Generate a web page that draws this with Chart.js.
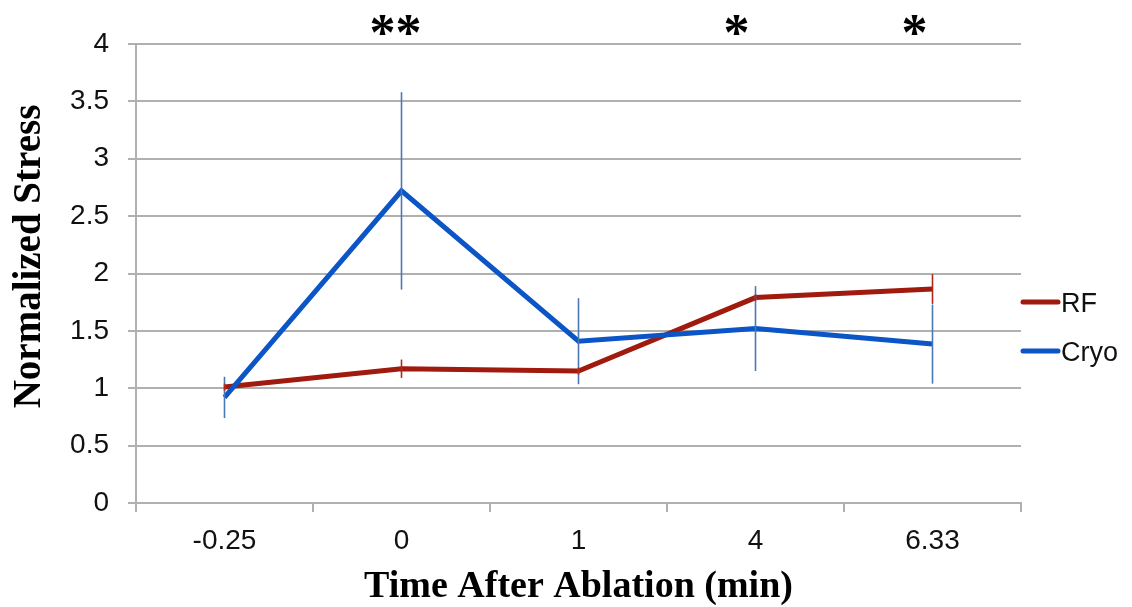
<!DOCTYPE html>
<html>
<head>
<meta charset="utf-8">
<script src="https://cdn.jsdelivr.net/npm/chart.js@4.4.1/dist/chart.umd.min.js"></script>
<style>
  html, body { margin: 0; padding: 0; background: #ffffff; }
  #wrap { width: 1132px; height: 607px; }
</style>
</head>
<body>
<div id="wrap"><canvas id="stressChart" width="1132" height="607"></canvas></div>
<script>
// Time points (min after ablation) and mean normalized stress with error
const timePoints = ['-0.25', '0', '1', '4', '6.33'];
const rfMean   = [1.01, 1.17, 1.15, 1.79, 1.865];
const rfErr    = [0.03, 0.08, 0.03, 0.03, 0.13];
const cryoMean = [0.92, 2.72, 1.41, 1.52, 1.385];
const cryoErr  = [0.18, 0.86, 0.375, 0.37, 0.345];
// Significance markers per time point
const significance = ['', '**', '', '*', '*'];
const yTickLabels = ['0', '0.5', '1', '1.5', '2', '2.5', '3', '3.5', '4'];
const yTitle = 'Normalized Stress';

const GRID = '#b0b0b0';

// Vertical error bars (no caps) from each dataset's `errors` array
const errorBars = {
  id: 'errorBars',
  afterDatasetsDraw(chart) {
    const { ctx, scales: { x, y } } = chart;
    [1, 0].forEach(i => {
      const ds = chart.data.datasets[i];
      if (!ds.errors) return;
      ctx.save();
      ctx.strokeStyle = ds.errorColor;
      ctx.lineWidth = 1.6;
      ds.data.forEach((v, j) => {
        const e = ds.errors[j];
        const px = x.getPixelForValue(j);
        ctx.beginPath();
        ctx.moveTo(px, y.getPixelForValue(v + e));
        ctx.lineTo(px, y.getPixelForValue(v - e));
        ctx.stroke();
      });
      ctx.restore();
    });
  }
};

// Significance stars above the plot area
const sigStars = {
  id: 'sigStars',
  afterDraw(chart, args, opts) {
    const { ctx, scales: { x } } = chart;
    ctx.save();
    ctx.font = opts.font;
    ctx.fillStyle = '#000';
    ctx.textAlign = 'center';
    ctx.textBaseline = 'alphabetic';
    opts.marks.forEach((m, j) => {
      if (!m) return;
      ctx.fillText(m, x.getPixelForValue(j) + opts.dx[j], opts.baseline);
    });
    ctx.restore();
  }
};

// Rotated y-axis title, placed a little above the plot's mid-height
const yAxisTitle = {
  id: 'yAxisTitle',
  afterDraw(chart, args, opts) {
    const { ctx, chartArea } = chart;
    ctx.save();
    ctx.font = opts.font;
    ctx.fillStyle = '#000';
    ctx.textAlign = 'center';
    ctx.textBaseline = 'middle';
    ctx.translate(opts.x, (chartArea.top + chartArea.bottom) / 2 + opts.dy);
    ctx.rotate(-Math.PI / 2);
    ctx.fillText(opts.text, 0, 0);
    ctx.restore();
  }
};

// Series key to the right of the plot
const seriesKey = {
  id: 'seriesKey',
  afterDraw(chart, args, opts) {
    const { ctx, chartArea } = chart;
    ctx.save();
    ctx.font = opts.font;
    ctx.textBaseline = 'middle';
    ctx.textAlign = 'left';
    opts.items.forEach((idx, k) => {
      const ds = chart.data.datasets[idx];
      const yy = opts.top + k * opts.gap;
      const x0 = chartArea.right + opts.lineStart;
      ctx.strokeStyle = ds.borderColor;
      ctx.lineWidth = 5;
      ctx.lineCap = 'round';
      ctx.beginPath();
      ctx.moveTo(x0, yy);
      ctx.lineTo(x0 + opts.lineLength, yy);
      ctx.stroke();
      ctx.fillStyle = '#111';
      ctx.fillText(ds.label, x0 + opts.lineLength + opts.textGap, yy + opts.textDy);
    });
    ctx.restore();
  }
};

new Chart(document.getElementById('stressChart'), {
  type: 'line',
  data: {
    labels: timePoints,
    datasets: [
      {
        label: 'RF',
        data: rfMean,
        errors: rfErr,
        errorColor: '#b0281c',
        borderColor: '#a01a0e',
        borderWidth: 5,
        pointRadius: 0,
        tension: 0,
        order: 2
      },
      {
        label: 'Cryo',
        data: cryoMean,
        errors: cryoErr,
        errorColor: '#4a78b4',
        borderColor: '#0b55c6',
        borderWidth: 5,
        pointRadius: 0,
        tension: 0,
        order: 1
      }
    ]
  },
  options: {
    responsive: false,
    animation: false,
    devicePixelRatio: 1,
    layout: { padding: { top: 44, right: 111, bottom: 0, left: 0 } },
    plugins: {
      legend: { display: false },
      tooltip: { enabled: false },
      sigStars: {
        marks: significance,
        dx: [0, -6, 0, -19, -18],
        font: 'bold 52px "Liberation Serif"',
        baseline: 50
      },
      yAxisTitle: {
        text: yTitle,
        font: 'bold 39px "Liberation Serif"',
        x: 30,
        dy: -17
      },
      seriesKey: {
        items: [0, 1],
        top: 302,
        gap: 49,
        lineStart: 2,
        lineLength: 35,
        textGap: 3,
        textDy: 3,
        font: '27px "Liberation Sans"'
      }
    },
    scales: {
      x: {
        type: 'category',
        offset: true,
        afterFit(scale) { scale.height = 104; },
        grid: {
          offset: true,
          drawOnChartArea: false,
          drawTicks: true,
          tickLength: 9,
          color: GRID,
          lineWidth: 2
        },
        border: { color: GRID, width: 2 },
        ticks: {
          padding: 12,
          color: '#111',
          font: { family: 'Liberation Sans', size: 28 }
        },
        title: {
          display: true,
          text: 'Time After Ablation (min)',
          color: '#000',
          font: { family: 'Liberation Serif', size: 38, weight: 'bold', lineHeight: 1 },
          padding: { top: 0, bottom: 1 }
        }
      },
      y: {
        min: 0,
        max: 4,
        afterFit(scale) { scale.width = 136; },
        ticks: {
          stepSize: 0.5,
          padding: 19,
          color: '#111',
          font: { family: 'Liberation Sans', size: 28 },
          callback: (v, i) => yTickLabels[i]
        },
        grid: {
          color: GRID,
          lineWidth: 2,
          tickLength: 8
        },
        border: { color: GRID, width: 2 }
      }
    }
  },
  plugins: [errorBars, sigStars, yAxisTitle, seriesKey]
});
</script>
</body>
</html>
